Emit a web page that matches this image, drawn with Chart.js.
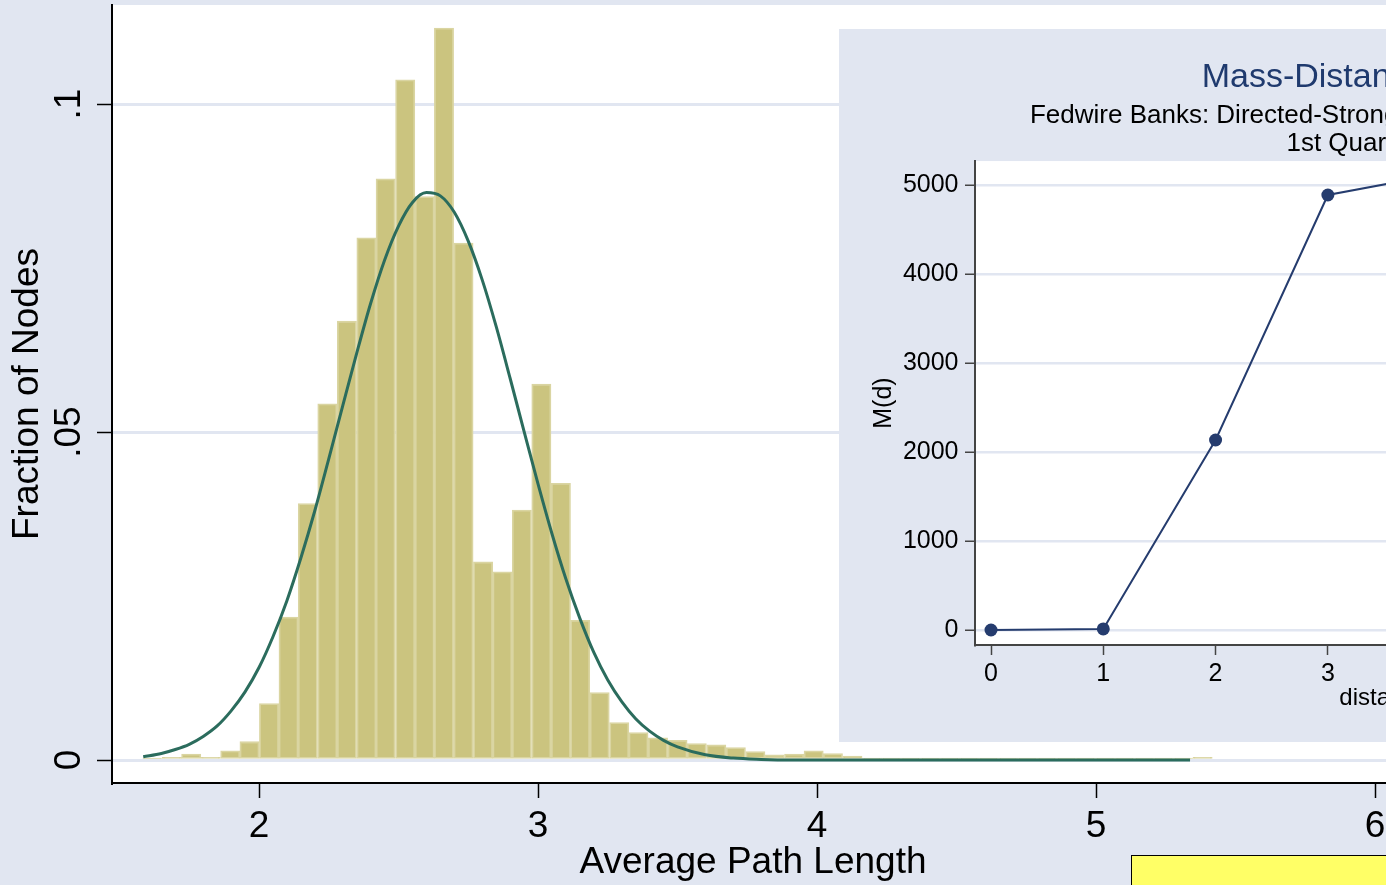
<!DOCTYPE html>
<html>
<head>
<meta charset="utf-8">
<title>Average Path Length</title>
<script src="https://cdn.jsdelivr.net/npm/chart.js@4.4.1/dist/chart.umd.min.js"></script>
<style>
  html, body { margin: 0; padding: 0; }
  body {
    width: 1386px; height: 885px; overflow: hidden; position: relative;
    background: #e1e6f1;
  }
  #main { position: absolute; left: 0; top: 0; }
  #inset { position: absolute; left: 839px; top: 29px; background: #e1e6f1; }
  #note {
    position: absolute; left: 1131px; top: 855px; width: 420px; height: 80px;
    background: #ffff66; border: 1.5px solid #000; box-sizing: border-box;
  }
</style>
</head>
<body>
<canvas id="main" width="1420" height="885"></canvas>
<canvas id="inset" width="1092" height="713"></canvas>
<div id="note"></div>
<script>
// histogram: bin mid points and fraction of nodes in each bin
const binMids = [
  1.618, 1.688, 1.757, 1.827, 1.897, 1.966, 2.036, 2.106, 2.175, 2.245,
  2.315, 2.385, 2.454, 2.524, 2.594, 2.663, 2.733, 2.803, 2.872, 2.942,
  3.012, 3.082, 3.151, 3.221, 3.291, 3.360, 3.430, 3.500, 3.569, 3.639,
  3.709, 3.779, 3.848, 3.918, 3.988, 4.057, 4.127, 4.197, 4.266, 4.336,
  4.406, 4.476, 4.545, 4.615, 4.685, 4.754, 4.824, 4.894, 4.963, 5.033,
  5.103, 5.173, 5.242, 5.312, 5.382
];
const binFractions = [
  0.0003, 0.0004, 0.0009, 0.0004, 0.0014, 0.0028, 0.0086, 0.0218, 0.0391, 0.0543,
  0.0669, 0.0796, 0.0886, 0.1037, 0.0859, 0.1116, 0.0788, 0.0302, 0.0287, 0.0381,
  0.0573, 0.0422, 0.0213, 0.0103, 0.0057, 0.0042, 0.0034, 0.0030, 0.0025, 0.0023,
  0.0019, 0.0013, 0.0008, 0.0009, 0.0014, 0.0010, 0.0006, 0.0003, 0.0003, 0.0003,
  0.0003, 0.0003, 0.0003, 0.0003, 0.0003, 0.0003, 0.0003, 0.0003, 0.0003, 0.0003,
  0.0003, 0.0003, 0.0003, 0.0003, 0.0004
];

// normal density overlay
const curveX = [
  1.585, 1.65, 1.70, 1.75, 1.80, 1.85, 1.90, 1.95, 2.00, 2.05,
  2.10, 2.15, 2.20, 2.25, 2.30, 2.35, 2.40, 2.45, 2.50, 2.55,
  2.60, 2.65, 2.70, 2.75, 2.80, 2.85, 2.90, 2.95, 3.00, 3.05,
  3.10, 3.15, 3.20, 3.25, 3.30, 3.35, 3.40, 3.45, 3.50, 3.60,
  3.70, 3.80, 3.90, 4.00, 4.50, 5.00, 5.337
];
const curveY = [
  0.0005, 0.0010, 0.0016, 0.0024, 0.0036, 0.0052, 0.0075, 0.0104, 0.0141, 0.0188,
  0.0243, 0.0308, 0.0380, 0.0459, 0.0540, 0.0620, 0.0696, 0.0762, 0.0814, 0.0850,
  0.0865, 0.0860, 0.0835, 0.0791, 0.0732, 0.0661, 0.0582, 0.0501, 0.0421, 0.0345,
  0.0276, 0.0216, 0.0164, 0.0122, 0.0089, 0.0063, 0.0044, 0.0030, 0.0020, 0.0008,
  0.0003, 0.0001, 0.0000, 0.0000, 0.0000, 0.0000, 0.0000
];

const xTicks = [2, 3, 4, 5, 6];
const yTicks = [0, 0.05, 0.1];
const yTickLabels = ["0", ".05", ".1"];

// inset: mass-distance function
const distance = [0, 1, 2, 3, 4];
const massAtDistance = [0, 12, 2135, 4888, 5125];
const insetXTicks = [0, 1, 2, 3, 4, 5, 6, 7];
const insetYTicks = [0, 1000, 2000, 3000, 4000, 5000];

const FONT = '"Liberation Sans", Arial, sans-serif';
const BG = "#e1e6f1";
Chart.defaults.font.family = FONT;
Chart.defaults.color = "#000";

// white plot region
const plotBg = {
  id: "plotBg",
  beforeDraw(chart) {
    const { ctx, chartArea: a } = chart;
    ctx.save();
    ctx.fillStyle = "#fff";
    ctx.fillRect(a.left, a.top, a.right - a.left, a.bottom - a.top);
    ctx.restore();
  }
};

new Chart(document.getElementById("main"), {
  type: "bar",
  data: {
    datasets: [
      {
        type: "line",
        label: "Normal density",
        data: curveX.map((x, i) => ({ x, y: curveY[i] })),
        borderColor: "#2b6c5d",
        borderWidth: 3,
        pointRadius: 0,
        cubicInterpolationMode: "monotone",
        order: 0
      },
      {
        type: "bar",
        label: "Fraction of Nodes",
        data: binMids.map((x, i) => ({ x, y: binFractions[i] })),
        backgroundColor: "#cbc47f",
        borderColor: "#dad5a2",
        borderWidth: 1.8,
        borderSkipped: false,
        barPercentage: 1,
        categoryPercentage: 1,
        order: 1
      }
    ]
  },
  options: {
    responsive: false,
    animation: false,
    devicePixelRatio: 1,
    layout: { padding: { top: 5, right: 26, left: 0, bottom: 0 } },
    plugins: { legend: { display: false }, tooltip: { enabled: false } },
    scales: {
      x: {
        type: "linear",
        min: 1.4731,
        max: 6.068,
        offset: false,
        afterBuildTicks: s => { s.ticks = xTicks.map(v => ({ value: v })); },
        afterFit: s => { s.height = 102; s.paddingLeft = 0; s.paddingRight = 0; },
        ticks: { font: { size: 37 }, padding: 7, callback: v => String(v) },
        grid: {
          display: true, drawOnChartArea: false, offset: false,
          drawTicks: true, tickLength: 15, tickColor: "#000", tickWidth: 1.5
        },
        border: { display: true, color: "#000", width: 2 },
        title: {
          display: true, text: "Average Path Length",
          font: { size: 37 }, padding: { top: 0, bottom: 0 }
        }
      },
      y: {
        type: "linear",
        min: -0.0035,
        max: 0.1151,
        afterBuildTicks: s => { s.ticks = yTicks.map(v => ({ value: v })); },
        afterFit: s => { s.width = 112; s.paddingTop = 0; s.paddingBottom = 0; },
        ticks: {
          font: { size: 37 }, padding: 1, minRotation: 90, maxRotation: 90,
          crossAlign: "center",
          callback: v => yTickLabels[yTicks.indexOf(v)]
        },
        grid: {
          color: BG, lineWidth: 3,
          drawTicks: true, tickLength: 15, tickColor: "#000", tickWidth: 1.5
        },
        border: { display: true, color: "#000", width: 2 },
        title: {
          display: true, text: "Fraction of Nodes",
          font: { size: 37 }, padding: { top: 6, bottom: 0 }
        }
      }
    }
  },
  plugins: [plotBg]
});

new Chart(document.getElementById("inset"), {
  type: "line",
  data: {
    datasets: [{
      label: "M(d)",
      data: distance.map((d, i) => ({ x: d, y: massAtDistance[i] })),
      borderColor: "#253c6e",
      backgroundColor: "#253c6e",
      borderWidth: 2,
      pointRadius: 6.5,
      pointBorderWidth: 0,
      tension: 0
    }]
  },
  options: {
    responsive: false,
    animation: false,
    devicePixelRatio: 1,
    layout: { padding: { left: 0, right: 138, top: 0, bottom: 0 } },
    plugins: {
      legend: { display: false },
      tooltip: { enabled: false },
      title: {
        display: true, text: "Mass-Distance Function", color: "#1f3a6e",
        fullSize: false,
        font: { size: 34, weight: "normal" }, padding: { top: 28, bottom: 0 }
      },
      subtitle: {
        display: true,
        text: ["Fedwire Banks: Directed-Strongly Connected Component Set", "1st Quarter 2004"],
        color: "#000",
        fullSize: false,
        font: { size: 26, lineHeight: 1.07 },
        padding: { top: 4, bottom: 3.6 }
      }
    },
    scales: {
      x: {
        type: "linear",
        min: -0.1425,
        max: 7.1425,
        afterBuildTicks: s => { s.ticks = insetXTicks.map(v => ({ value: v })); },
        afterFit: s => { s.height = 97; s.paddingLeft = 0; s.paddingRight = 0; },
        ticks: { font: { size: 25 }, padding: 4, callback: v => String(v) },
        grid: {
          display: true, drawOnChartArea: false,
          drawTicks: true, tickLength: 10, tickColor: "#444", tickWidth: 1.5
        },
        border: { display: true, color: "#444", width: 2 },
        title: {
          display: true, text: "distance",
          font: { size: 24 }, padding: { top: 0, bottom: 29 }
        }
      },
      y: {
        type: "linear",
        min: -168.5,
        max: 5269.7,
        afterBuildTicks: s => { s.ticks = insetYTicks.map(v => ({ value: v })); },
        afterFit: s => { s.width = 136; s.paddingTop = 0; s.paddingBottom = 0; },
        ticks: { font: { size: 25 }, padding: 6.5, callback: v => String(v) },
        grid: {
          color: BG, lineWidth: 2.5,
          drawTicks: true, tickLength: 10, tickColor: "#444", tickWidth: 1.5
        },
        border: { display: true, color: "#444", width: 2 },
        title: {
          display: true, text: "M(d)",
          font: { size: 25 }, padding: { top: 30, bottom: 0 }
        }
      }
    }
  },
  plugins: [plotBg]
});
</script>
</body>
</html>
